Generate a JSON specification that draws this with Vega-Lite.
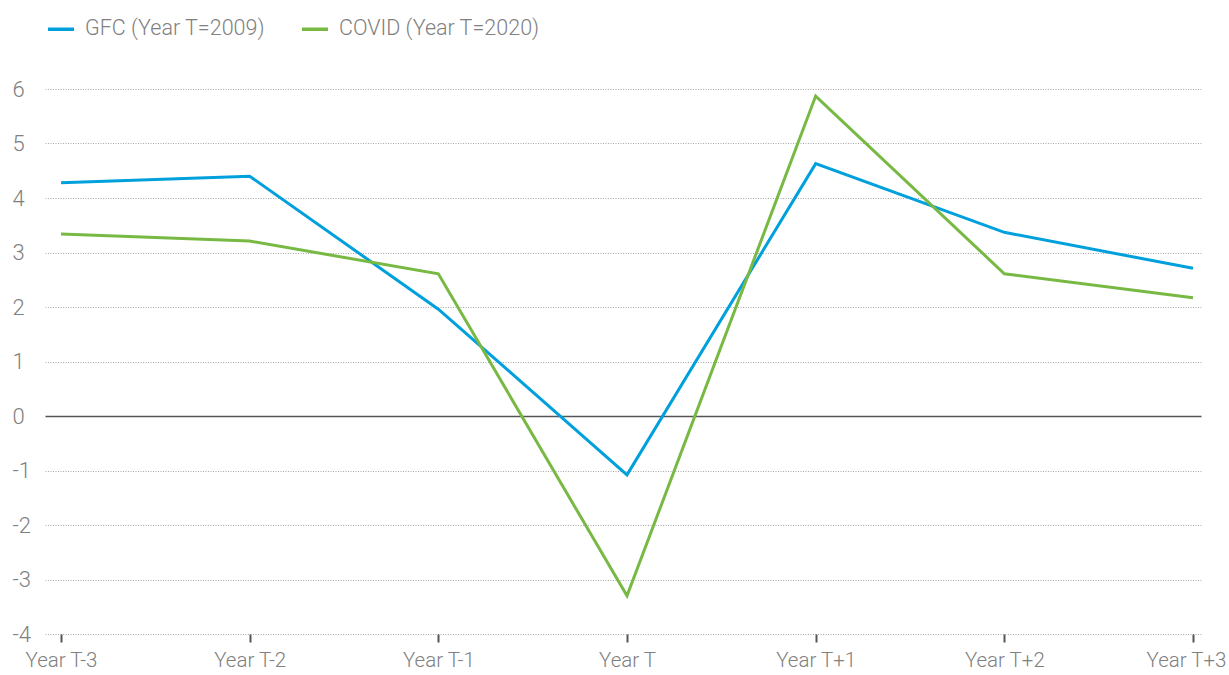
{
  "$schema": "https://vega.github.io/schema/vega-lite/v6.json",
  "autosize": "none",
  "width": 1156,
  "height": 545,
  "padding": {"left": 45, "top": 89, "right": 28, "bottom": 41},
  "background": "white",
  "data": {
    "values": [
      {"period": "Year T-3", "series": "GFC (Year T=2009)", "value": 4.28},
      {"period": "Year T-2", "series": "GFC (Year T=2009)", "value": 4.4},
      {"period": "Year T-1", "series": "GFC (Year T=2009)", "value": 1.96},
      {"period": "Year T", "series": "GFC (Year T=2009)", "value": -1.08},
      {"period": "Year T+1", "series": "GFC (Year T=2009)", "value": 4.63},
      {"period": "Year T+2", "series": "GFC (Year T=2009)", "value": 3.37},
      {"period": "Year T+3", "series": "GFC (Year T=2009)", "value": 2.71},
      {"period": "Year T-3", "series": "COVID (Year T=2020)", "value": 3.34},
      {"period": "Year T-2", "series": "COVID (Year T=2020)", "value": 3.21},
      {"period": "Year T-1", "series": "COVID (Year T=2020)", "value": 2.61},
      {"period": "Year T", "series": "COVID (Year T=2020)", "value": -3.3},
      {"period": "Year T+1", "series": "COVID (Year T=2020)", "value": 5.87},
      {"period": "Year T+2", "series": "COVID (Year T=2020)", "value": 2.61},
      {"period": "Year T+3", "series": "COVID (Year T=2020)", "value": 2.17}
    ]
  },
  "config": {
    "view": {"stroke": null},
    "font": "Roboto",
    "axis": {"labelFont": "Roboto", "labelColor": "#808080", "labelFontWeight": 300},
    "legend": {"labelFont": "Roboto", "labelFontWeight": 300}
  },
  "mark": {"type": "line", "strokeWidth": 3, "strokeCap": "butt", "strokeJoin": "miter"},
  "encoding": {
    "x": {
      "field": "period",
      "type": "ordinal",
      "sort": ["Year T-3", "Year T-2", "Year T-1", "Year T", "Year T+1", "Year T+2", "Year T+3"],
      "scale": {"type": "point", "padding": 0.0636, "align": 0.667},
      "axis": {
        "title": null,
        "labelAngle": 0,
        "labelFontSize": 20.5,
        "labelPadding": 8,
        "labelOffset": {"condition": {"test": "datum.value === 'Year T+3'", "value": -7}, "value": 0},
        "tickSize": 8,
        "tickWidth": 2,
        "tickColor": "#555555",
        "domain": false,
        "grid": false,
        "labelOverlap": false
      }
    },
    "y": {
      "field": "value",
      "type": "quantitative",
      "scale": {"domain": [-4, 6], "nice": false, "zero": false},
      "axis": {
        "title": null,
        "values": [-4, -3, -2, -1, 0, 1, 2, 3, 4, 5, 6],
        "labelExpr": "'' + datum.value",
        "ticks": false,
        "domain": false,
        "labelAlign": "left",
        "labelPadding": 33,
        "labelFontSize": 22,
        "grid": true,
        "gridColor": {"condition": {"test": "datum.value === 0", "value": "#555555"}, "value": "#a6a6a6"},
        "gridDash": {"condition": {"test": "datum.value === 0", "value": []}, "value": [1, 1.5]},
        "gridWidth": {"condition": {"test": "datum.value === 0", "value": 1.5}, "value": 1}
      }
    },
    "color": {
      "field": "series",
      "type": "nominal",
      "sort": ["GFC (Year T=2009)", "COVID (Year T=2020)"],
      "scale": {"domain": ["GFC (Year T=2009)", "COVID (Year T=2020)"], "range": ["#00a0dc", "#78b944"]},
      "legend": {
        "title": null,
        "orient": "none",
        "legendX": 1,
        "legendY": -75,
        "direction": "horizontal",
        "symbolType": "stroke",
        "symbolSize": 676,
        "symbolStrokeWidth": 3.5,
        "labelFontSize": 21.5,
        "labelLimit": 0,
        "labelColor": "#808080",
        "labelOffset": 9,
        "columnPadding": 30
      }
    }
  }
}
